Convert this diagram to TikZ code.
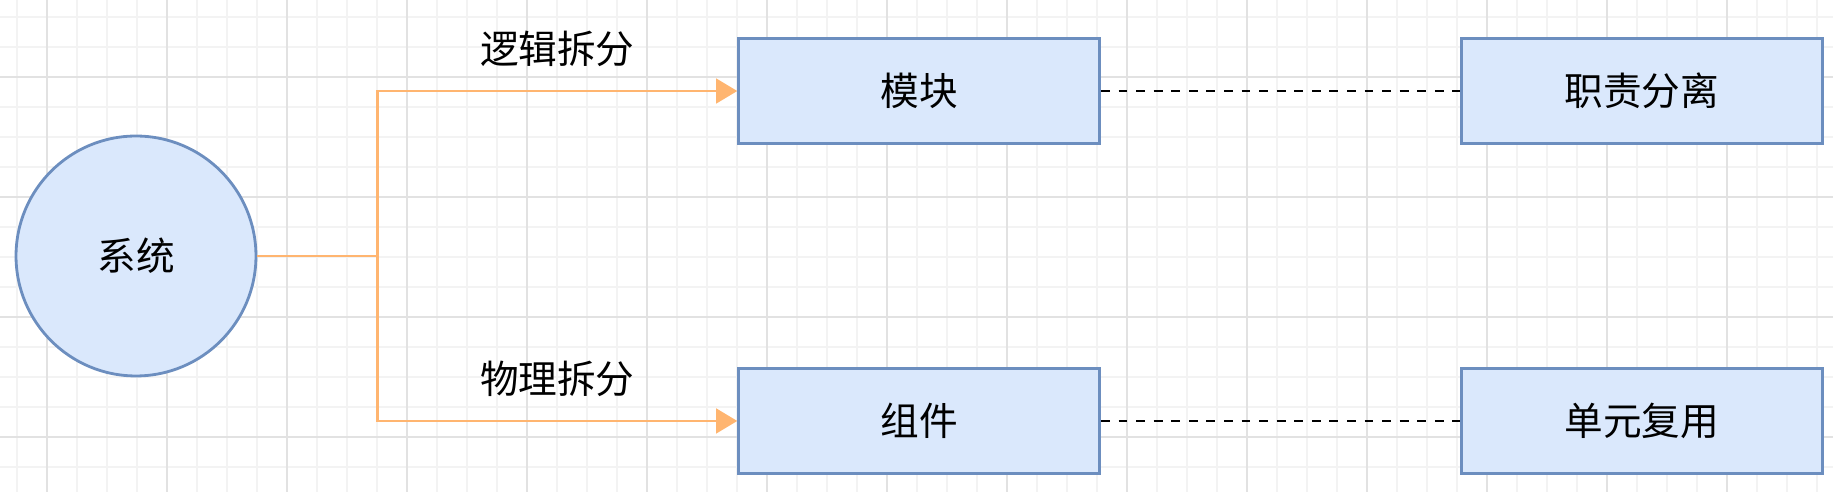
\documentclass[tikz,border=0pt]{standalone}
\usepackage{fontspec}
\setmainfont{Noto Sans CJK SC}
\usetikzlibrary{shapes, arrows.meta, positioning}

\definecolor{boxfill}{HTML}{DAE8FC}
\definecolor{boxline}{HTML}{6C8EBF}
\definecolor{flowline}{HTML}{FFB570}
\definecolor{gridminor}{HTML}{F3F3F3}
\definecolor{gridmajor}{HTML}{E2E2E2}

\begin{document}
\begin{tikzpicture}[x=0.02cm, y=-0.02cm, font=\fontsize{22}{26}\selectfont]
    \tikzstyle{sysnode} = [circle, draw=boxline, fill=boxfill, line width=1.6pt, minimum size=4.8cm, inner sep=0pt]
    \tikzstyle{process} = [rectangle, draw=boxline, fill=boxfill, line width=1.6pt, minimum width=7.22cm, minimum height=2.1cm, text centered]
    \tikzstyle{flow} = [draw=flowline, line width=1.5pt, -{Triangle[length=12pt, width=14pt]}]
    \tikzstyle{link} = [black, line width=1.6pt, dash pattern=on 5pt off 5pt]

    % Background grid
    \useasboundingbox (0,0) rectangle (1833,492);
    \foreach \gx in {17,47,...,1833} \draw[gridminor, line width=0.8pt] (\gx,0) -- (\gx,492);
    \foreach \gy in {17,47,...,492} \draw[gridminor, line width=0.8pt] (0,\gy) -- (1833,\gy);
    \foreach \gx in {47,167,...,1833} \draw[gridmajor, line width=0.8pt] (\gx,0) -- (\gx,492);
    \foreach \gy in {77,197,...,492} \draw[gridmajor, line width=0.8pt] (0,\gy) -- (1833,\gy);

    \node (sys) [sysnode] at (136,256) {系统};
    \node (module) [process, right=9.6cm of sys, yshift=3.3cm] {模块};
    \node (component) [process, right=9.6cm of sys, yshift=-3.3cm] {组件};
    \node (duty) [process, right=7.18cm of module] {职责分离};
    \node (reuse) [process, right=7.18cm of component] {单元复用};
    \coordinate (split) at ([xshift=2.4cm]sys.east);

    % Arrows
    \draw [flow] (sys.east) -- (split) |- node (logic) [pos=0.75, yshift=0.84cm] {逻辑拆分} (module.west);
    \draw [flow] (split) |- node (physical) [pos=0.75, yshift=0.84cm] {物理拆分} (component.west);
    \draw [link] (module) -- (duty);
    \draw [link] (component) -- (reuse);
\end{tikzpicture}
\end{document}
